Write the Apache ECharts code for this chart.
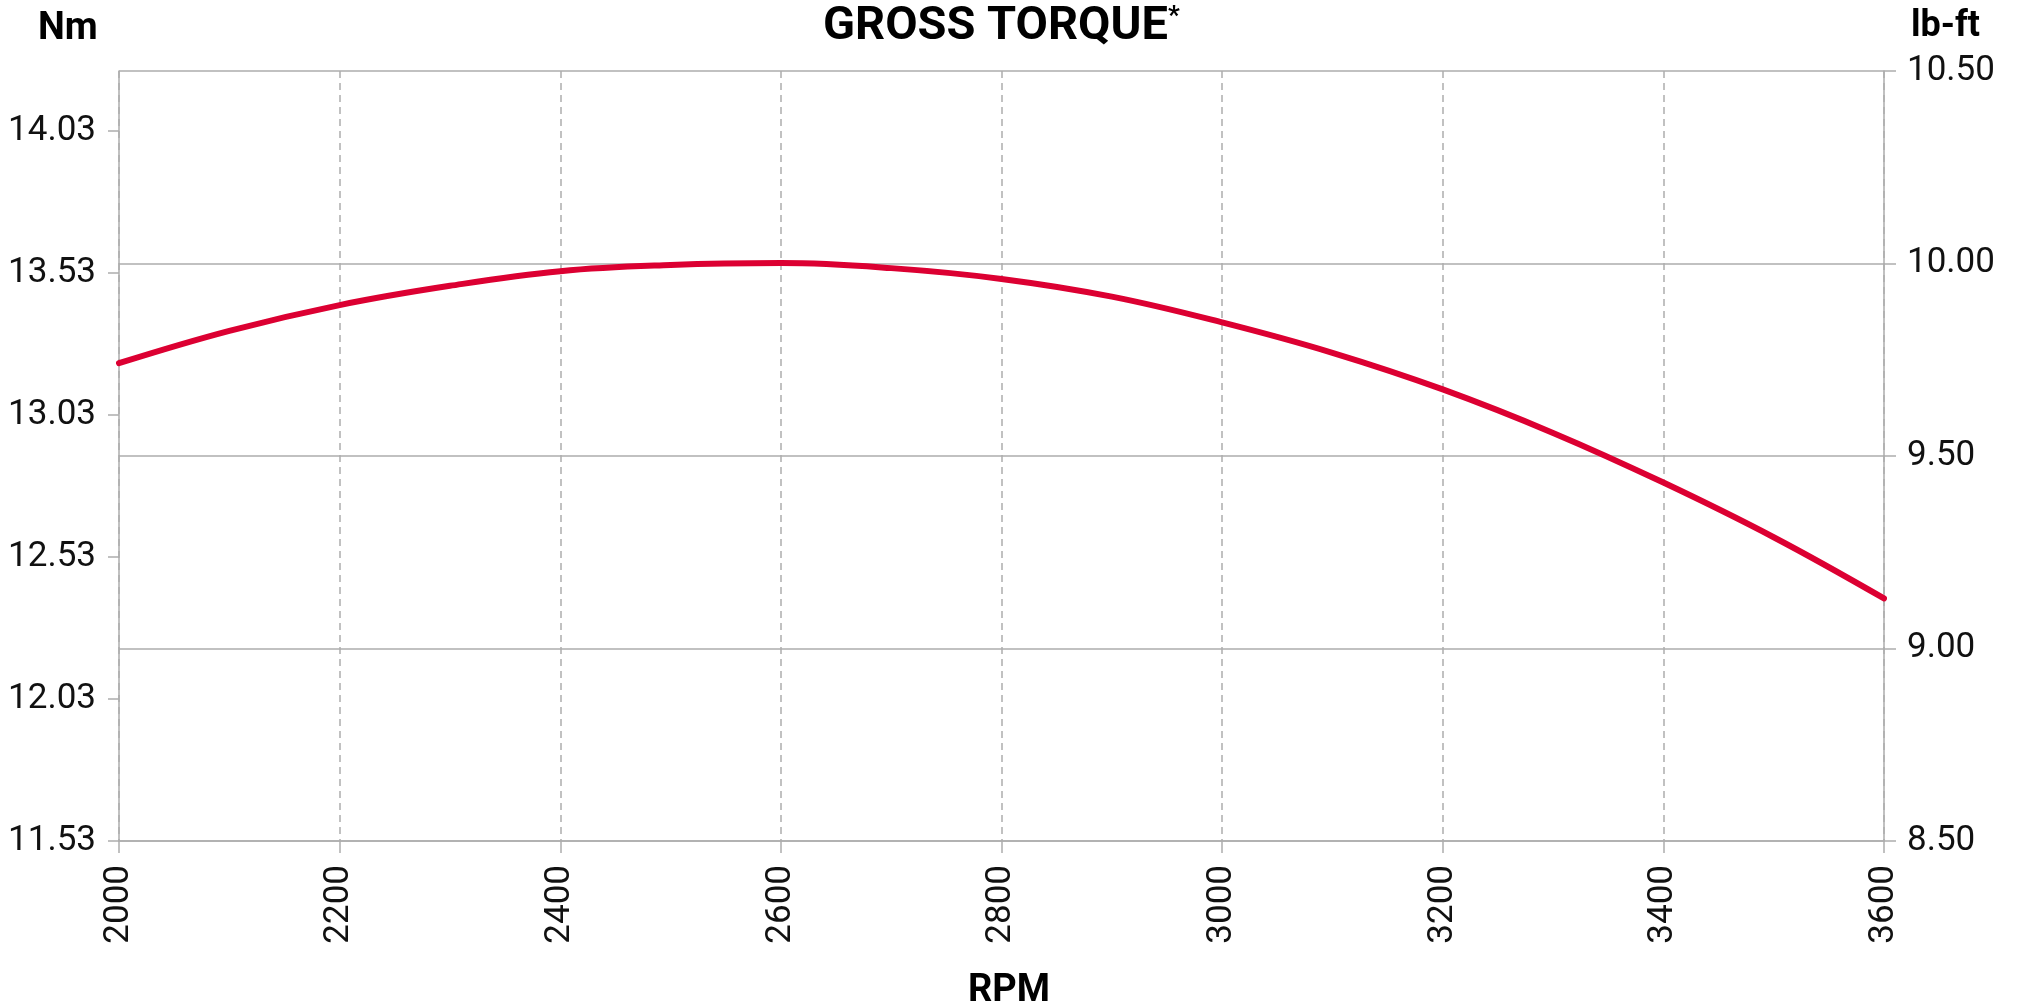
<!DOCTYPE html>
<html lang="en">
<head>
    <meta charset="UTF-8">
    <title>Gross Torque</title>
    <script src="https://cdn.jsdelivr.net/npm/echarts@6/dist/echarts.min.js"></script>
    <style>
        html, body { margin: 0; padding: 0; background: #fff; }
    </style>
</head>
<body>
    <div id="box" style="width: 2018px; height: 1008px;"></div>
    <script>
        // rpm on the x axis
        var rpm = [2000, 2100, 2200, 2300, 2400, 2500, 2600, 2700, 2800, 2900, 3000, 3100, 3200, 3300, 3400, 3500, 3600];
        // torque in lb-ft (right axis)
        var torqueLbft = [9.741, 9.825, 9.892, 9.942, 9.980, 9.996, 10.001, 9.988, 9.960, 9.914, 9.847, 9.768, 9.673, 9.560, 9.431, 9.289, 9.130];
        // tick labels
        var nmTicks = [11.526, 12.026, 12.526, 13.026, 13.526, 14.026];
        var lbftTicks = [8.5, 9.0, 9.5, 10.0, 10.5];

        var grey = '#adadad';
        var font = 'Roboto, "Liberation Sans", sans-serif';

        var chart = echarts.init(document.getElementById('box'));
        var option = {
            backgroundColor: '#fff',
            animation: false,
            title: [
                {
                    text: 'GROSS TORQUE{s|*}',
                    left: 818, top: -1,
                    textStyle: {
                        fontFamily: font, fontSize: 47, fontWeight: 'bold', color: '#000',
                        rich: { s: { fontFamily: font, fontSize: 26, fontWeight: 'bold', color: '#000', verticalAlign: 'top', padding: [0, 0, 18, 0] } }
                    }
                },
                { text: 'Nm', left: 33, top: 5, textStyle: { fontFamily: font, fontSize: 38, fontWeight: 'bold', color: '#000' } },
                { text: 'lb-ft', left: 1906, top: 4, textStyle: { fontFamily: font, fontSize: 36, fontWeight: 'bold', color: '#000' } },
                { text: 'RPM', left: 'center', top: 967, textStyle: { fontFamily: font, fontSize: 38, fontWeight: 'bold', color: '#000' } }
            ],
            grid: { left: 119, right: 134, top: 71, bottom: 167, containLabel: false },
            xAxis: {
                type: 'value',
                min: 2000, max: 3600, interval: 200,
                axisLine: { lineStyle: { color: grey, width: 1.5 } },
                axisTick: { length: 12, lineStyle: { color: grey, width: 1.5 } },
                axisLabel: {
                    rotate: 90, margin: 24, fontFamily: font, fontSize: 35, color: '#111',
                    formatter: function (v) { return String(v); }
                },
                splitLine: { show: true, lineStyle: { color: grey, width: 1.5, type: [7, 5] } }
            },
            yAxis: [
                {
                    type: 'value', position: 'left',
                    min: 11.526, max: 14.238, interval: 0.5,
                    axisLine: { show: true, lineStyle: { color: grey, width: 1.5 } },
                    axisTick: { show: true, length: 11, customValues: nmTicks, lineStyle: { color: grey, width: 1.5 } },
                    axisLabel: {
                        margin: 23, fontFamily: font, fontSize: 35, color: '#111',
                        customValues: nmTicks,
                        formatter: function (v) { return v.toFixed(2); }
                    },
                    splitLine: { show: false }
                },
                {
                    type: 'value', position: 'right',
                    min: 8.5, max: 10.5, interval: 0.5,
                    axisLine: { show: true, lineStyle: { color: grey, width: 1.5 } },
                    axisTick: { show: true, length: 12, lineStyle: { color: grey, width: 1.5 } },
                    axisLabel: {
                        margin: 23, fontFamily: font, fontSize: 35, color: '#111',
                        formatter: function (v) { return v.toFixed(2); }
                    },
                    splitLine: { show: true, lineStyle: { color: grey, width: 1.5 } }
                }
            ],
            series: [
                {
                    type: 'line',
                    yAxisIndex: 1,
                    smooth: 0.4,
                    symbol: 'none',
                    lineStyle: { color: '#dc0032', width: 6, cap: 'round' },
                    data: rpm.map(function (r, i) { return [r, torqueLbft[i]]; })
                }
            ]
        };
        chart.setOption(option);
    </script>
</body>
</html>
